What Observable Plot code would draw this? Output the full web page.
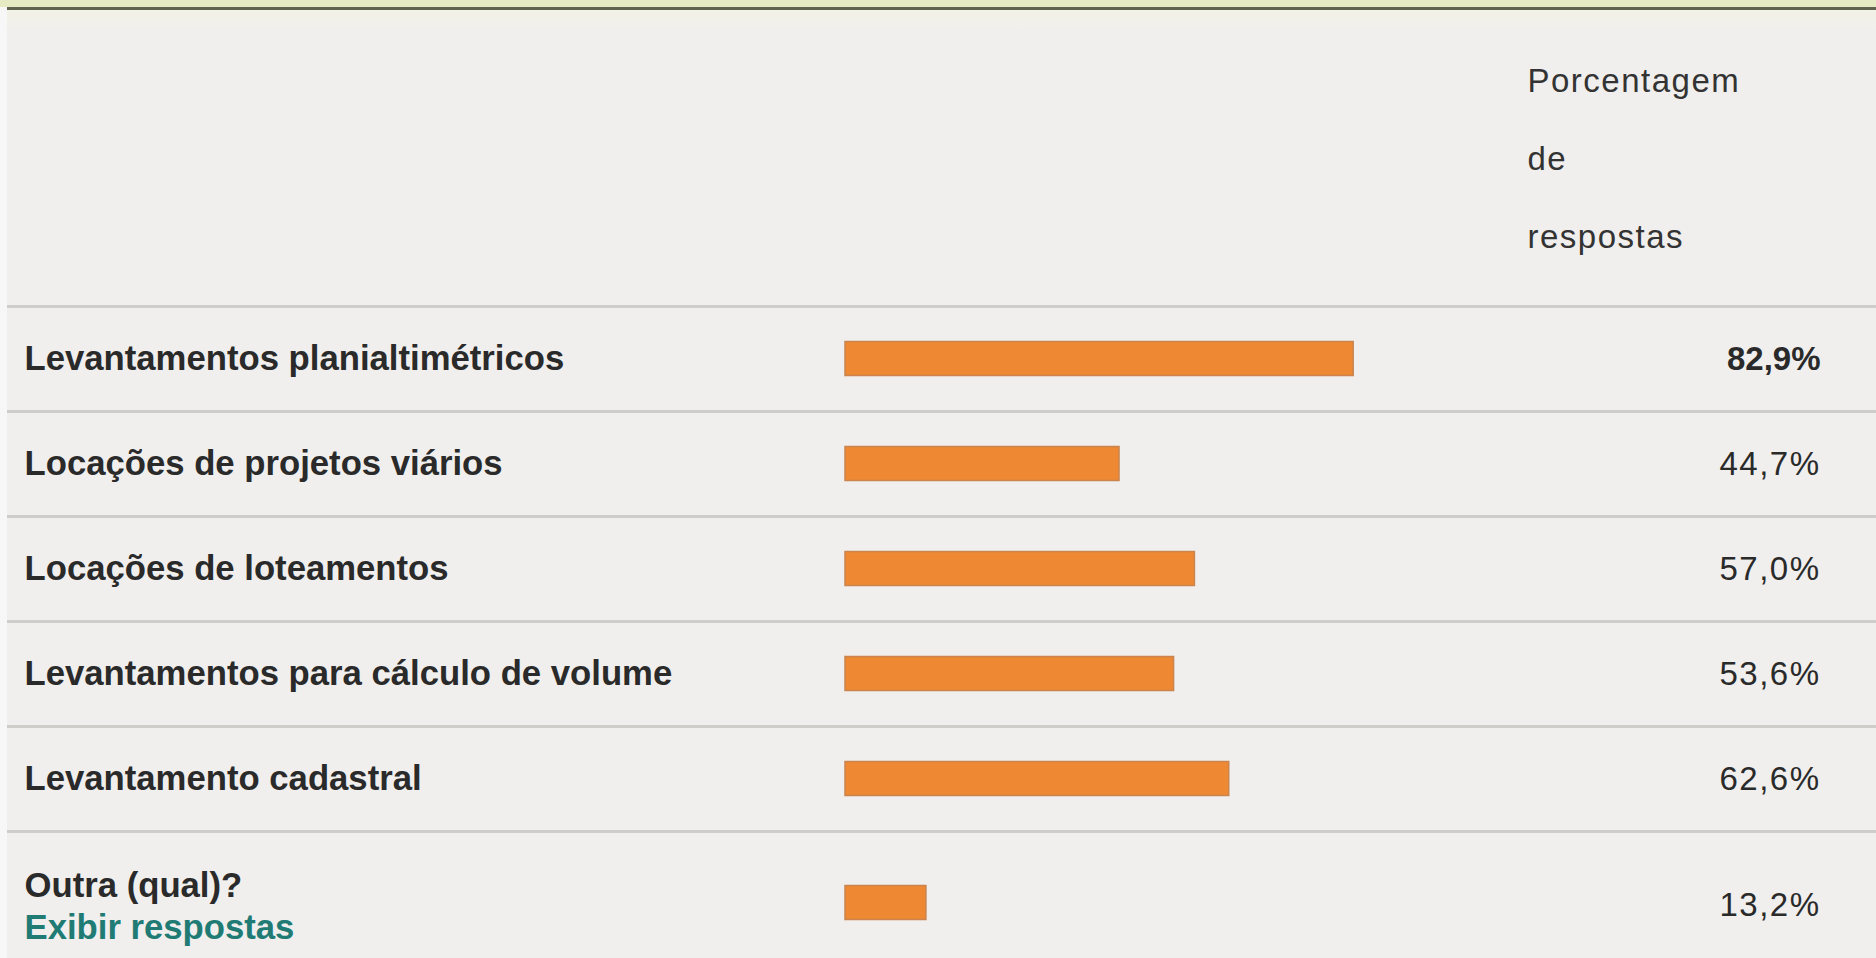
<!DOCTYPE html>
<html>
<head>
<meta charset="utf-8">
<script src="https://cdn.jsdelivr.net/npm/d3@7"></script>
<script src="https://cdn.jsdelivr.net/npm/@observablehq/plot@0.6"></script>
<style>
  html, body { margin: 0; padding: 0; width: 1876px; height: 958px; overflow: hidden; background: #f0efed; }
  #topband { position: absolute; left: 0; top: 0; width: 1876px; height: 7px; background: #e7ebc4; }
  #topline { position: absolute; left: 7px; top: 7px; width: 1869px; height: 3px; background: #5e6450; }
  #fade { position: absolute; left: 7px; top: 10px; width: 1869px; height: 22px; background: linear-gradient(#f3f2e6, #f0efed); }
  #leftstrip { position: absolute; left: 0; top: 7px; width: 7px; height: 951px; background: #f7f7f7; }
  #chart { position: absolute; left: 0; top: 0; }
</style>
</head>
<body>
<div id="topband"></div><div id="topline"></div><div id="fade"></div><div id="leftstrip"></div>
<div id="chart"></div>
<script>
// Data
const categories = [
  "Levantamentos planialtimétricos",
  "Locações de projetos viários",
  "Locações de loteamentos",
  "Levantamentos para cálculo de volume",
  "Levantamento cadastral",
  "Outra (qual)?"
];
const values = [82.9, 44.7, 57.0, 53.6, 62.6, 13.2];
const headerLines = ["Porcentagem", "de", "respostas"];
const linkLabel = "Exibir respostas";

const data = categories.map((c, i) => ({category: c, value: values[i], last: i === categories.length - 1}));
const main = data.filter(d => !d.last);
const other = data.filter(d => d.last);
const maxVal = d3.max(values);
const fmt = v => d3.format(".1f")(v).replace(".", ",") + "%";

const font = "'Liberation Sans', Arial, sans-serif";
const textColor = "#2a2a2a";
const barFill = "#ee8832";
const barStroke = "#c9844f";
const lastDy = 19;

const plot = Plot.plot({
  width: 1876,
  height: 958,
  marginTop: 306,
  marginBottom: 22,
  marginLeft: 24,
  marginRight: 56,
  style: {background: "transparent", fontFamily: font},
  x: {domain: [0, 100], range: [845, 1458], axis: null},
  y: {domain: categories, padding: 0, axis: null},
  marks: [
    // row separators
    Plot.ruleY(categories, {y: d => d, dy: -52.5, stroke: "#cfcdca", strokeWidth: 3, insetLeft: -17, insetRight: -56}),
    // header
    Plot.text([headerLines.join("\n")], {
      frameAnchor: "top-right", dx: -293, dy: -161, textAnchor: "start", lineAnchor: "middle",
      lineHeight: 2.364, fontSize: 33, fill: "#333", fontFamily: font
    }),
    // bars
    Plot.barX(main, {x: "value", y: "category", fill: barFill, stroke: barStroke, strokeWidth: 1.5, insetTop: 35.5, insetBottom: 35.5}),
    Plot.barX(other, {x: "value", y: "category", dy: lastDy, fill: barFill, stroke: barStroke, strokeWidth: 1.5, insetTop: 35.5, insetBottom: 35.5}),
    // category labels
    Plot.text(main, {y: "category", text: "category", frameAnchor: "left", textAnchor: "start", fontSize: 34.7, fontWeight: "bold", fill: textColor, fontFamily: font}),
    Plot.text(other, {y: "category", text: "category", frameAnchor: "left", textAnchor: "start", dy: 1.5, fontSize: 34.7, fontWeight: "bold", fill: textColor, fontFamily: font}),
    Plot.text(other, {y: "category", text: () => linkLabel, frameAnchor: "left", textAnchor: "start", dy: 43.5, fontSize: 34.7, fontWeight: "bold", fill: "#217b75", fontFamily: font}),
    // value labels
    Plot.text(main.filter(d => d.value === maxVal), {y: "category", text: d => fmt(d.value), frameAnchor: "right", textAnchor: "end", fontSize: 33, fontWeight: "bold", fill: textColor, fontFamily: font}),
    Plot.text(main.filter(d => d.value !== maxVal), {y: "category", text: d => fmt(d.value), frameAnchor: "right", textAnchor: "end", fontSize: 33, fill: textColor, fontFamily: font}),
    Plot.text(other, {y: "category", text: d => fmt(d.value), frameAnchor: "right", textAnchor: "end", dy: lastDy + 2, fontSize: 33, fill: textColor, fontFamily: font})
  ]
});
// wider letter spacing for the light (non-bold) header and value texts, as in the reference
d3.select(plot).selectAll("text").each(function() {
  const t = this.textContent;
  const bold = this.closest("[font-weight]");
  if (t.startsWith(headerLines[0]) || (t.endsWith("%") && !bold)) {
    this.style.letterSpacing = "1.5px";
  }
});
document.getElementById("chart").appendChild(plot);
</script>
</body>
</html>
